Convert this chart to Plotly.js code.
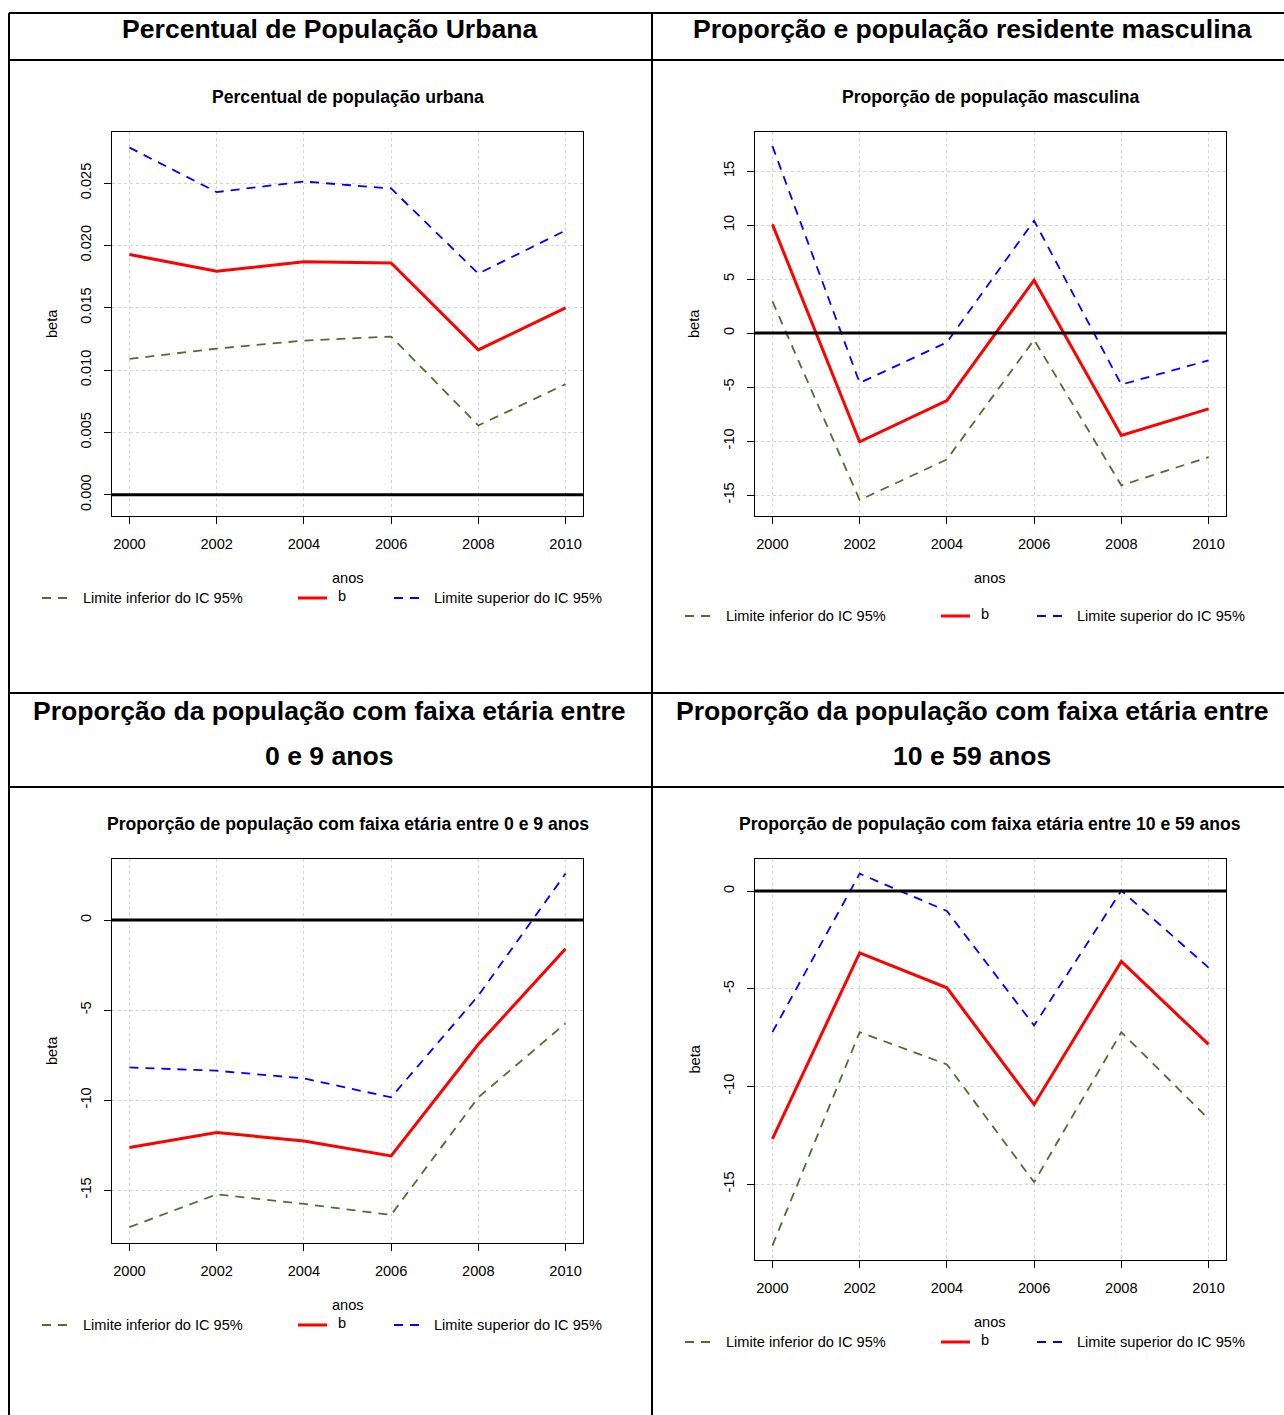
<!DOCTYPE html>
<html>
<head>
<meta charset="utf-8">
<script src="https://cdn.plot.ly/plotly-3.0.1.min.js"></script>
<style>html,body{margin:0;padding:0;background:#fff;}#chart{width:1284px;height:1415px;}</style>
</head>
<body>
<div id="chart"></div>
<script>
// ---------------- DATA ----------------
const years = [2000, 2002, 2004, 2006, 2008, 2010];

// Panel 1: Percentual de população urbana
const urbLower = [0.0109, 0.01173, 0.01237, 0.01269, 0.00556, 0.00888];
const urbB     = [0.01928, 0.01793, 0.0187, 0.01859, 0.01162, 0.0150];
const urbUpper = [0.02785, 0.02428, 0.02513, 0.02457, 0.01774, 0.0212];

// Panel 2: Proporção de população masculina
const mascLower = [2.93, -15.46, -11.70, -0.62, -14.10, -11.49];
const mascB     = [10.07, -10.07, -6.25, 4.90, -9.49, -7.02];
const mascUpper = [17.31, -4.62, -0.86, 10.41, -4.77, -2.53];

// Panel 3: faixa etária 0 a 9 anos
const f09Lower = [-17.06, -15.24, -15.77, -16.38, -9.85, -5.74];
const f09B     = [-12.63, -11.80, -12.28, -13.10, -6.90, -1.60];
const f09Upper = [-8.19, -8.37, -8.80, -9.85, -4.20, 2.58];

// Panel 4: faixa etária 10 a 59 anos
const f1059Lower = [-18.14, -7.22, -8.87, -14.90, -7.22, -11.66];
const f1059B     = [-12.68, -3.16, -4.95, -10.92, -3.60, -7.85];
const f1059Upper = [-7.22, 0.89, -1.02, -6.88, 0.02, -3.92];

// Tick labels
const xTickVals = [2000, 2002, 2004, 2006, 2008, 2010];
const xTickText = ['2000', '2002', '2004', '2006', '2008', '2010'];
const urbTickVals = [0, 0.005, 0.010, 0.015, 0.020, 0.025];
const urbTickText = ['0.000', '0.005', '0.010', '0.015', '0.020', '0.025'];
const mascTickVals = [-15, -10, -5, 0, 5, 10, 15];
const mascTickText = ['-15', '-10', '-5', '0', '5', '10', '15'];
const f09TickVals = [-15, -10, -5, 0];
const f09TickText = ['-15', '-10', '-5', '0'];
const f1059TickVals = [-15, -10, -5, 0];
const f1059TickText = ['-15', '-10', '-5', '0'];

// Texts
const headers = [
  ['Percentual de População Urbana'],
  ['Proporção e população residente masculina'],
  ['Proporção da população com faixa etária entre', '0 e 9 anos'],
  ['Proporção da população com faixa etária entre', '10 e 59 anos']
];
const plotTitles = [
  'Percentual de população urbana',
  'Proporção de população masculina',
  'Proporção de população com faixa etária entre 0 e 9 anos',
  'Proporção de população com faixa etária entre 10 e 59 anos'
];
const legendNames = ['Limite inferior do IC 95%', 'b', 'Limite superior do IC 95%'];
const xLabel = 'anos';
const yLabel = 'beta';

// ---------------- LAYOUT HELPERS ----------------
const W = 1284, H = 1415;
const fx = p => p / W;
const fy = p => 1 - p / H;
const FONT = 'Liberation Sans, Arial, Helvetica, sans-serif';
const cGreen = '#556B2F', cRed = '#FF0000', cBlue = '#0000FF';
const BASE = 14.6;

const panels = [
  {lo: urbLower, b: urbB, up: urbUpper, tv: urbTickVals, tt: urbTickText, yr: [-0.0017, 0.0291],
   bx0: 112, bx1: 583, by0: 132, by1: 516, titleY: 97, anosY: 578, legY: 598, cx: 348, betaX: 52},
  {lo: mascLower, b: mascB, up: mascUpper, tv: mascTickVals, tt: mascTickText, yr: [-16.94, 18.62],
   bx0: 755, bx1: 1226, by0: 132, by1: 516, titleY: 97, anosY: 578, legY: 616, cx: 990, betaX: 694},
  {lo: f09Lower, b: f09B, up: f09Upper, tv: f09TickVals, tt: f09TickText, yr: [-17.94, 3.39],
   bx0: 112, bx1: 583, by0: 859, by1: 1243, titleY: 824, anosY: 1305, legY: 1325, cx: 348, betaX: 52},
  {lo: f1059Lower, b: f1059B, up: f1059Upper, tv: f1059TickVals, tt: f1059TickText, yr: [-18.88, 1.64],
   bx0: 755, bx1: 1226, by0: 859, by1: 1260, titleY: 824, anosY: 1322, legY: 1342, cx: 990, betaX: 694}
];

const traces = [];
const layout = {
  width: W, height: H,
  margin: {l: 0, r: 0, t: 0, b: 0},
  paper_bgcolor: '#ffffff', plot_bgcolor: '#ffffff',
  showlegend: false,
  font: {family: FONT, size: BASE, color: '#000'},
  shapes: [], annotations: []
};

panels.forEach((p, i) => {
  const n = i + 1;
  const xa = 'x' + (n === 1 ? '' : n), ya = 'y' + (n === 1 ? '' : n);
  const xk = 'xaxis' + (n === 1 ? '' : n), yk = 'yaxis' + (n === 1 ? '' : n);
  layout[xk] = {
    domain: [fx(p.bx0), fx(p.bx1)], anchor: ya, range: [1999.6, 2010.4],
    tickvals: xTickVals, ticktext: xTickText, ticks: 'outside', ticklen: 7, tickcolor: '#000', tickwidth: 1,
    showline: true, mirror: true, linecolor: '#000', linewidth: 1,
    showgrid: true, gridcolor: '#d3d3d3', griddash: 'dot', gridwidth: 1, zeroline: false,
    tickfont: {family: FONT, size: BASE, color: '#000'}, ticklabelstandoff: 7, fixedrange: true
  };
  layout[yk] = {
    domain: [fy(p.by1), fy(p.by0)], anchor: xa, range: p.yr,
    tickvals: p.tv, ticktext: p.tt, tickangle: -90, ticks: 'outside', ticklen: 7, tickcolor: '#000', tickwidth: 1,
    showline: true, mirror: true, linecolor: '#000', linewidth: 1,
    showgrid: true, gridcolor: '#d3d3d3', griddash: 'dot', gridwidth: 1, zeroline: false,
    tickfont: {family: FONT, size: BASE, color: '#000'}, ticklabelstandoff: 7, fixedrange: true
  };
  // zero reference line
  layout.shapes.push({type: 'line', xref: xa + ' domain', yref: ya, x0: 0, x1: 1, y0: 0, y1: 0,
    line: {color: '#000', width: 3}, layer: 'above'});
  // series
  traces.push({x: years, y: p.lo, xaxis: xa, yaxis: ya, mode: 'lines', name: legendNames[0],
    line: {color: cGreen, width: 1.8, dash: '9px,7px'}});
  traces.push({x: years, y: p.b, xaxis: xa, yaxis: ya, mode: 'lines', name: legendNames[1],
    line: {color: cRed, width: 3}});
  traces.push({x: years, y: p.up, xaxis: xa, yaxis: ya, mode: 'lines', name: legendNames[2],
    line: {color: cBlue, width: 1.8, dash: '9px,7px'}});
  // plot title
  layout.annotations.push({xref: 'paper', yref: 'paper', x: fx(p.cx), y: fy(p.titleY), text: '<b>' + plotTitles[i] + '</b>',
    showarrow: false, xanchor: 'center', yanchor: 'middle', font: {family: FONT, size: 17.6, color: '#000'}});
  // axis labels
  layout.annotations.push({xref: 'paper', yref: 'paper', x: fx(p.cx), y: fy(p.anosY), text: xLabel,
    showarrow: false, xanchor: 'center', yanchor: 'middle', font: {family: FONT, size: BASE, color: '#000'}});
  layout.annotations.push({xref: 'paper', yref: 'paper', x: fx(p.betaX), y: fy((p.by0 + p.by1) / 2), text: yLabel, textangle: -90,
    showarrow: false, xanchor: 'center', yanchor: 'middle', font: {family: FONT, size: BASE, color: '#000'}});
  // legend
  const off = p.bx0 - 112;
  const legItems = [
    {x0: 42, x1: 67, tx: 81, color: cGreen, width: 1.8, dash: '9px,7px'},
    {x0: 298, x1: 327, tx: 336, color: cRed, width: 3, dash: 'solid'},
    {x0: 394, x1: 419, tx: 432, color: cBlue, width: 1.8, dash: '9px,7px'}
  ];
  legItems.forEach((li, k) => {
    layout.shapes.push({type: 'line', xref: 'paper', yref: 'paper', x0: fx(li.x0 + off), x1: fx(li.x1 + off),
      y0: fy(p.legY), y1: fy(p.legY), line: {color: li.color, width: li.width, dash: li.dash}});
    layout.annotations.push({xref: 'paper', yref: 'paper', x: fx(li.tx + off), y: fy(p.legY - (k === 1 ? 2 : 0)), text: legendNames[k],
      showarrow: false, xanchor: 'left', yanchor: 'middle', font: {family: FONT, size: BASE, color: '#000'}});
  });
});

// table borders
const bw = 2;
[[9, 13, 9, H], [652, 13, 652, H]].forEach(l => layout.shapes.push({type: 'line', xref: 'paper', yref: 'paper',
  x0: fx(l[0]), x1: fx(l[2]), y0: fy(l[1]), y1: fy(l[3]), line: {color: '#000', width: bw}}));
[13, 60, 693, 787].forEach(y => layout.shapes.push({type: 'line', xref: 'paper', yref: 'paper',
  x0: fx(9), x1: 1, y0: fy(y), y1: fy(y), line: {color: '#000', width: bw}}));

// headers
const headerPos = [
  {cx: 330, ys: [29]}, {cx: 972, ys: [29]}, {cx: 330, ys: [711, 756]}, {cx: 972, ys: [711, 756]}
];
headers.forEach((lines, i) => {
  lines.forEach((t, j) => {
    layout.annotations.push({xref: 'paper', yref: 'paper', x: fx(headerPos[i].cx), y: fy(headerPos[i].ys[j]),
      text: '<b>' + t + '</b>', showarrow: false, xanchor: 'center', yanchor: 'middle',
      font: {family: FONT, size: 26.6, color: '#000'}});
  });
});

Plotly.newPlot('chart', traces, layout, {staticPlot: true, displayModeBar: false});
</script>
</body>
</html>
